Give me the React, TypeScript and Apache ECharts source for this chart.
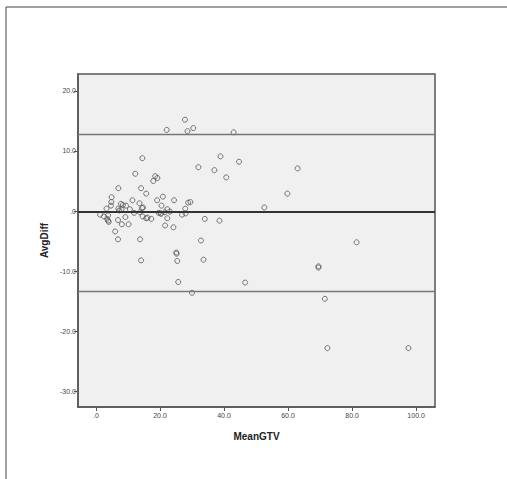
import React, { useEffect, useRef } from "react";
import * as echarts from "echarts";

const meanGTV = [
  27.8, 22.1, 28.6, 30.4, 43.0, 14.5, 38.9, 44.7, 32.0, 37.0, 63.0, 40.7, 12.3, 18.5, 19.2, 17.9,
  7.0, 14.1, 15.7, 59.8, 4.9, 20.9, 11.4, 19.1, 24.4, 4.8, 13.6, 28.8, 29.5, 7.8, 8.4, 9.4, 20.5,
  4.7, 52.6, 3.3, 7.0, 14.4, 14.7, 10.6, 22.3, 27.9, 8.0, 7.3, 11.9, 19.6, 20.2, 21.5, 28.0, 26.9,
  1.3, 2.5, 3.8, 3.5, 4.0, 14.6, 15.7, 17.3, 9.2, 22.3, 34.0, 6.9, 38.6, 3.8, 8.1, 10.2, 21.6, 24.2,
  6.0, 6.9, 13.8, 32.8, 81.4, 25.1, 25.2, 14.1, 25.4, 33.6, 69.5, 69.5, 25.7, 46.6, 30.0, 71.5,
  72.3, 97.6, 13.7, 16.1, 23.1, 20.4,
];
const avgDiff = [
  15.2, 13.5, 13.3, 13.8, 13.1, 8.8, 9.1, 8.2, 7.3, 6.8, 7.1, 5.6, 6.2, 5.8, 5.5, 5.0,
  3.8, 3.8, 2.9, 2.9, 2.3, 2.4, 1.8, 1.8, 1.8, 1.5, 1.3, 1.4, 1.5, 1.2, 1.0, 0.9, 0.9,
  0.9, 0.6, 0.4, 0.4, 0.5, 0.6, 0.3, 0.3, 0.4, 0.3, 0.1, -0.3, -0.3, -0.4, -0.2, -0.4, -0.6,
  -0.6, -0.9, -0.7, -1.3, -1.8, -0.9, -1.2, -1.3, -1.0, -1.2, -1.3, -1.5, -1.6, -1.6, -2.2, -2.2, -2.4, -2.7,
  -3.4, -4.7, -4.7, -4.9, -5.2, -6.9, -7.1, -8.2, -8.3, -8.1, -9.2, -9.4, -11.8, -11.9, -13.6, -14.6,
  -22.8, -22.8, -0.2, -1.1, -0.1, -0.45,
];
const meanLine = -0.2;
const upperLimit = 12.8;
const lowerLimit = -13.35;
const xTicks = [0, 20, 40, 60, 80, 100];
const yTicks = [-30, -20, -10, 0, 10, 20];

const fmt = (v: number) => (v === 0 ? ".0" : Number(v).toFixed(1));

export default function App() {
  const ref = useRef<HTMLDivElement>(null);
  useEffect(() => {
    if (!ref.current) return;
    const chart = echarts.init(ref.current, null, { renderer: "svg" });
    const points = meanGTV.map((x, i) => [x, avgDiff[i]]);
    const labelStyle = {
      fontFamily: "Liberation Sans",
      fontSize: 7,
      color: "#444444",
    };
    chart.setOption({
      animation: false,
      backgroundColor: "#ffffff",
      graphic: [
        {
          type: "rect",
          shape: { x: 6, y: 7, width: 520, height: 500 },
          style: { fill: "none", stroke: "#444", lineWidth: 1 },
          silent: true,
          z: 100,
        },
      ],
      grid: {
        left: 78,
        right: 72,
        top: 74,
        bottom: 72,
        show: true,
        backgroundColor: "#f0f0f0",
        borderColor: "#555",
        borderWidth: 1.5,
      },
      xAxis: {
        type: "value",
        min: -5.6,
        max: 105.9,
        name: "MeanGTV",
        nameLocation: "middle",
        nameGap: 24,
        nameTextStyle: { fontFamily: "Liberation Sans", fontWeight: "bold", fontSize: 10, color: "#222" },
        splitLine: { show: false },
        axisLine: { show: true, onZero: false, lineStyle: { color: "#555", width: 1.5 } },
        axisTick: { show: true, customValues: xTicks, length: 4, lineStyle: { color: "#555" } },
        axisLabel: { ...labelStyle, customValues: xTicks, formatter: fmt, margin: 5 },
      },
      yAxis: {
        type: "value",
        min: -32.6,
        max: 22.8,
        name: "AvgDiff",
        nameLocation: "middle",
        nameGap: 26,
        nameTextStyle: { fontFamily: "Liberation Sans", fontWeight: "bold", fontSize: 10, color: "#222" },
        splitLine: { show: false },
        axisLine: { show: true, onZero: false, lineStyle: { color: "#555", width: 1.5 } },
        axisTick: { show: true, customValues: yTicks, length: 4, lineStyle: { color: "#555" } },
        axisLabel: { ...labelStyle, customValues: yTicks, formatter: fmt, margin: 2 },
      },
      series: [
        {
          type: "scatter",
          data: points,
          symbol: "circle",
          symbolSize: 5,
          itemStyle: { color: "rgba(0,0,0,0)", borderColor: "#555", borderWidth: 1 },
          markLine: {
            silent: true,
            symbol: "none",
            label: { show: false },
            data: [
              { yAxis: upperLimit, lineStyle: { color: "#777", width: 1.3, type: "solid" } },
              { yAxis: meanLine, lineStyle: { color: "#333", width: 2, type: "solid" } },
              { yAxis: lowerLimit, lineStyle: { color: "#777", width: 1.3, type: "solid" } },
            ],
          },
          z: 3,
        },
      ],
    });
    return () => chart.dispose();
  }, []);
  return (
    <div
      ref={ref}
      style={{ position: "fixed", left: 0, top: 0, width: 507, height: 479 }}
    />
  );
}
